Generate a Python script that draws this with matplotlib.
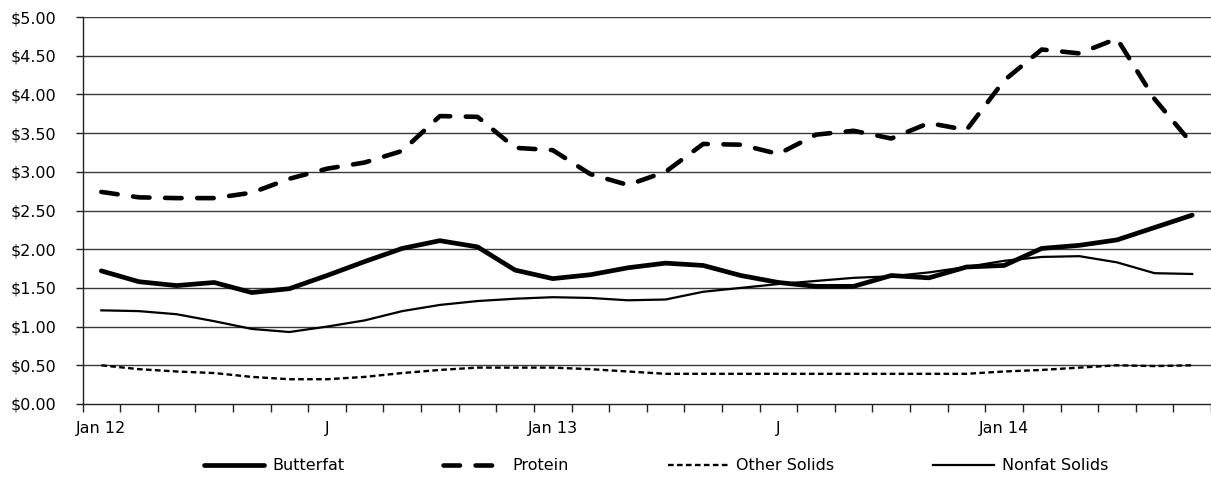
import matplotlib
matplotlib.use('Agg')
import matplotlib.pyplot as plt
import numpy as np

plt.rcParams['font.family'] = ['DejaVu Sans']
plt.rcParams['font.size'] = 11.5

# monthly component prices, Jan 2012 - Jun 2014
months = ['2012-%02d' % m for m in range(1, 13)] + \
         ['2013-%02d' % m for m in range(1, 13)] + \
         ['2014-%02d' % m for m in range(1, 7)]

butterfat = [1.72, 1.58, 1.53, 1.57, 1.44, 1.49, 1.66, 1.84, 2.01, 2.11,
             2.03, 1.73, 1.62, 1.67, 1.76, 1.82, 1.79, 1.66, 1.57, 1.52,
             1.52, 1.66, 1.63, 1.77, 1.79, 2.01, 2.05, 2.12, 2.28, 2.44]
protein = [2.74, 2.67, 2.66, 2.66, 2.73, 2.91, 3.04, 3.12, 3.27, 3.72,
           3.71, 3.31, 3.28, 2.97, 2.83, 3.00, 3.36, 3.35, 3.23, 3.48,
           3.53, 3.43, 3.63, 3.54, 4.18, 4.58, 4.53, 4.72, 3.94, 3.36]
other_solids = [0.50, 0.45, 0.42, 0.40, 0.35, 0.32, 0.32, 0.35, 0.40, 0.44,
                0.47, 0.47, 0.47, 0.45, 0.42, 0.39, 0.39, 0.39, 0.39, 0.39,
                0.39, 0.39, 0.39, 0.39, 0.42, 0.44, 0.47, 0.50, 0.49, 0.50]
nonfat_solids = [1.21, 1.20, 1.16, 1.07, 0.97, 0.93, 1.00, 1.08, 1.20, 1.28,
                 1.33, 1.36, 1.38, 1.37, 1.34, 1.35, 1.45, 1.50, 1.55, 1.59,
                 1.63, 1.65, 1.70, 1.77, 1.85, 1.90, 1.91, 1.83, 1.69, 1.68]

tick_labels = {'2012-01': 'Jan 12', '2012-07': 'J', '2013-01': 'Jan 13',
               '2013-07': 'J', '2014-01': 'Jan 14'}

fig = plt.figure(figsize=(12.11, 4.78), dpi=100)
ax = fig.add_axes([82.5 / 1211, 1 - 404 / 478, 1 - 82.5 / 1211, 387 / 478])

x = np.arange(len(months)) + 0.5

ax.plot(x, butterfat, color='black', lw=3.4, solid_capstyle='round',
        solid_joinstyle='round', label='Butterfat')
ax.plot(x, protein, color='black', lw=3.3, dashes=(3.6, 3.4),
        dash_capstyle='round', label='Protein')
ax.plot(x, other_solids, color='black', lw=1.7, dashes=(2.4, 1.4),
        label='Other Solids')
ax.plot(x, nonfat_solids, color='black', lw=1.6, label='Nonfat Solids')

ax.set_xlim(0, len(months))
ax.set_ylim(0, 5)

yt = np.arange(0, 5.01, 0.5)
ax.set_yticks(yt)
ax.set_yticklabels(['$%.2f' % v for v in yt])
for v in yt[1:]:
    ax.axhline(v, color='#3a3a3a', lw=1, zorder=0)

# month boundaries get tick marks, labels sit in the middle of the month
ax.set_xticks(np.arange(0, len(months) + 1), minor=True)
pos = [months.index(m) + 0.5 for m in tick_labels]
ax.set_xticks(pos)
ax.set_xticklabels(list(tick_labels.values()))
ax.tick_params(axis='x', which='major', length=0, pad=12)
ax.tick_params(axis='x', which='minor', length=6, width=1, color='#222222')
ax.tick_params(axis='y', length=5, width=1, pad=14, color='#222222')

for s in ['top', 'right']:
    ax.spines[s].set_visible(False)
for s in ['left', 'bottom']:
    ax.spines[s].set_color('#222222')
    ax.spines[s].set_linewidth(1)

fig.legend(loc='center', bbox_to_anchor=(656 / 1211, 1 - 466 / 478), ncol=4,
           frameon=False, handlelength=3.8, handletextpad=0.5,
           columnspacing=6.2)

fig.savefig('out.png', dpi=100)
